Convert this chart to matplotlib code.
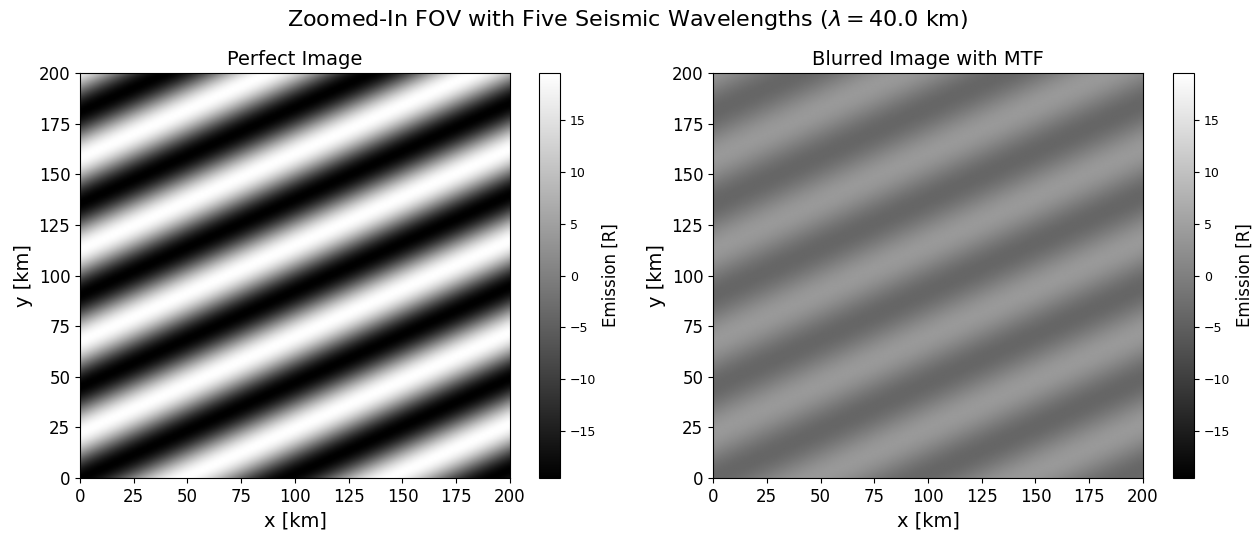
import numpy as np
import matplotlib
matplotlib.use("Agg")
import matplotlib.pyplot as plt

# Scene parameters
fov_km = 200.0
n_pix = 200
amplitude_R = 19.5
period_x_km = 96.0    # spacing of wave crests along x
period_y_km = 45.5    # spacing of wave crests along y
trough_y0_km = -0.5   # a trough crosses x=0 here
mtf_factor = 0.2

colorbar_ticks = [-15, -10, -5, 0, 5, 10, 15]
axis_ticks = [0, 25, 50, 75, 100, 125, 150, 175, 200]

# Build the wave field
x = np.linspace(0, fov_km, n_pix)
y = np.linspace(0, fov_km, n_pix)
X, Y = np.meshgrid(x, y)
phase = 2 * np.pi * (X / period_x_km - (Y - trough_y0_km) / period_y_km)
perfect = -amplitude_R * np.cos(phase)
blurred = mtf_factor * perfect

vmin, vmax = perfect.min(), perfect.max()

fig = plt.figure(figsize=(12.56, 5.33), dpi=100)
fig.suptitle(r"Zoomed-In FOV with Five Seismic Wavelengths ($\lambda = 40.0$ km)",
             fontsize=16, y=0.985)

panels = [
    ("Perfect Image", perfect, [0.0637, 0.1032, 0.3423, 0.7598], [0.4292, 0.1032, 0.0167, 0.7598]),
    ("Blurred Image with MTF", blurred, [0.5677, 0.1032, 0.3423, 0.7598], [0.9339, 0.1032, 0.0167, 0.7598]),
]

for title, data, ax_pos, cb_pos in panels:
    ax = fig.add_axes(ax_pos)
    im = ax.imshow(data, cmap="gray", origin="lower", extent=[0, fov_km, 0, fov_km],
                   vmin=vmin, vmax=vmax, aspect="auto", interpolation="bilinear")
    ax.set_title(title, fontsize=14)
    ax.set_xlabel("x [km]", fontsize=14)
    ax.set_ylabel("y [km]", fontsize=14)
    ax.set_xticks(axis_ticks)
    ax.set_yticks(axis_ticks)
    ax.tick_params(labelsize=12)
    cax = fig.add_axes(cb_pos)
    cb = fig.colorbar(im, cax=cax)
    cb.set_ticks(colorbar_ticks)
    cb.ax.tick_params(labelsize=9)
    cb.set_label("Emission [R]", fontsize=12)

fig.savefig("out.png", dpi=100)
